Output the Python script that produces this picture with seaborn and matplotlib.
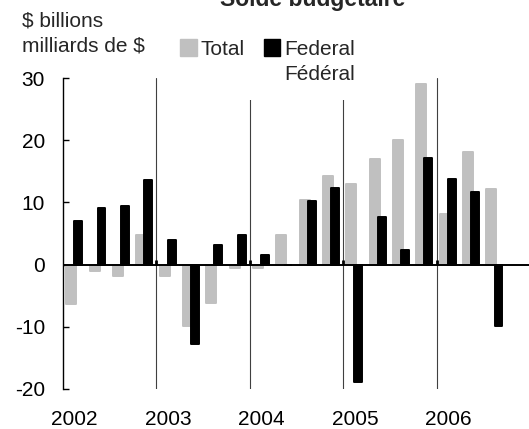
import matplotlib
matplotlib.use("Agg")
import matplotlib.pyplot as plt
import seaborn as sns
import pandas as pd
import numpy as np
from matplotlib.patches import Patch, Rectangle

# ---- data ----
years = ["2002", "2003", "2004", "2005", "2006"]
quarters = [f"{y}Q{q}" for y in years for q in range(1, 5)]
total = [-6.4, -1.0, -1.9, 4.7,
         -1.9, -9.8, -6.1, -0.6,
         -0.6, 4.7, 10.4, 14.3,
         13.0, 16.9, 20.1, 29.1,
         8.2, 18.1, 12.1, np.nan]
federal = [7.0, 9.1, 9.5, 13.6,
           4.0, -12.7, 3.1, 4.7,
           1.6, 0.0, 10.2, 12.3,
           -18.9, 7.6, 2.4, 17.2,
           13.7, 11.7, -9.9, np.nan]
series_names = ["Total", "Federal"]
legend_labels = ["Total", "Federal"]
legend_second_line = "Fédéral"
yticks = [-20, -10, 0, 10, 20, 30]

df = pd.DataFrame({
    "quarter": quarters * 2,
    "value": total + federal,
    "series": ["Total"] * len(quarters) + ["Federal"] * len(quarters),
})

sns.set_style("white")
plt.rcParams["font.family"] = ["Liberation Sans", "DejaVu Sans"]
plt.rcParams["font.size"] = 15

fig = plt.figure(figsize=(5.29, 4.29), dpi=100)
ax = fig.add_axes([63 / 529, 1 - 389 / 429, 467 / 529, 311 / 429])

palette = {"Total": "#c0c0c0", "Federal": "#000000"}
sns.barplot(data=df, x="quarter", y="value", hue="series", order=quarters,
            hue_order=series_names, palette=palette, width=0.6, dodge=True,
            ax=ax, legend=False, saturation=1)

widths = {0: 0.43, 1: 0.34}
for ci, cont in enumerate(ax.containers):
    col = palette[series_names[ci]]
    for bar in cont:
        cx = bar.get_x() + bar.get_width() / 2
        w = widths[ci]
        bar.set_x(cx - w / 2)
        bar.set_width(w)
        bar.set_edgecolor(col)
        bar.set_linewidth(1.4)
        bar.set_joinstyle("round")
        bar.set_zorder(2 + ci)

ax.set_xlim(-0.5, len(quarters) - 0.5)
ax.set_ylim(-20, 30)

# year separators
bounds = [3.5, 7.5, 11.5, 15.5]
for b in bounds:
    ax.axvline(b, color="#404040", lw=0.8, zorder=1)
ax.axhline(0, color="black", lw=1.4, zorder=5)
ax.vlines(bounds, 0, 0.7, color="black", lw=2, zorder=5)

for s in ["top", "right", "bottom"]:
    ax.spines[s].set_visible(False)
ax.spines["left"].set_color("black")
ax.spines["left"].set_linewidth(1.0)

ax.set_yticks(yticks)
ax.set_yticklabels([str(v) for v in yticks])
ax.tick_params(axis="y", direction="in", length=4.5, width=1, pad=13,
               labelsize=15, colors="black", left=True)
ax.set_xticks([quarters.index(f"{y}Q1") for y in years])
ax.set_xticklabels(years)
ax.tick_params(axis="x", length=0, pad=15, labelsize=15, colors="black")
ax.set_xlabel("")
ax.set_ylabel("")

# white background behind legend area (hides top of separators)
fig.patches.append(Rectangle((175 / 529, 1 - 100 / 429), 190 / 529, 70 / 429,
                             transform=fig.transFigure, facecolor="white",
                             edgecolor="none", zorder=5))

# legend
handles = [Patch(facecolor=palette[s], edgecolor=palette[s]) for s in series_names]
leg = fig.legend(handles, legend_labels, ncol=2, loc="upper left",
                 bbox_to_anchor=(178 / 529, 1 - 37 / 429), frameon=False,
                 fontsize=15, handlelength=0.8, handleheight=0.85,
                 handletextpad=0.2, columnspacing=0.9, borderpad=0.1,
                 borderaxespad=0)
leg.set_zorder(10)

fig.canvas.draw()
fed_txt = leg.get_texts()[1]
bb = fed_txt.get_window_extent()
x0 = bb.x0 / fig.bbox.width
fig.text(x0, 1 - 80 / 429, legend_second_line, ha="left", va="baseline",
         fontsize=15, zorder=10)

fig.text(22 / 529, 1 - 11 / 429, "$ billions\nmilliards de $", ha="left",
         va="top", fontsize=15, linespacing=1.45)
fig.text(313 / 529, 1 - 6 / 429, "Solde budgétaire", ha="center",
         va="baseline", fontsize=16.5, fontweight="bold")

fig.savefig("out.png", dpi=100)
